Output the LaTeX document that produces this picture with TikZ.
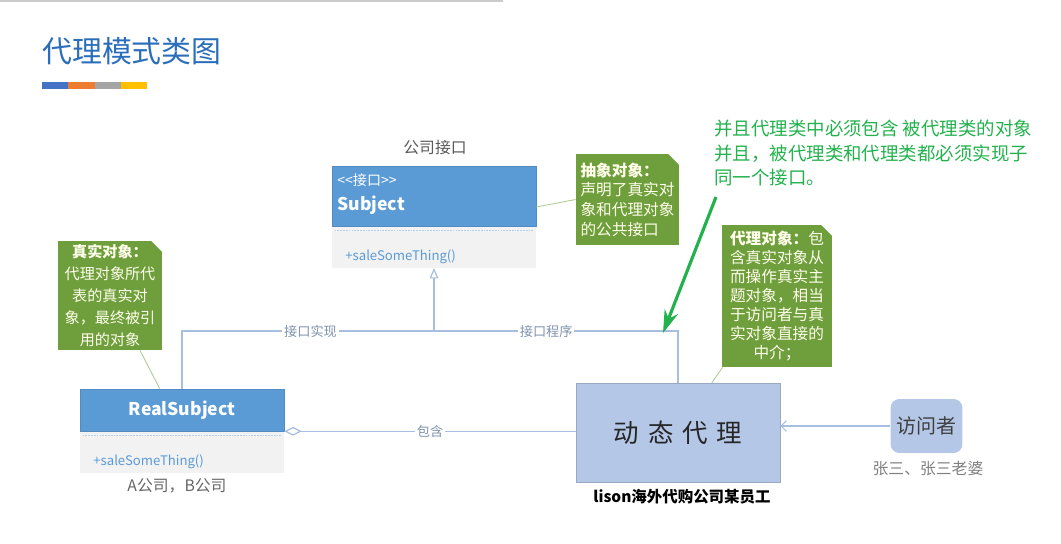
\documentclass[tikz,border=0pt]{standalone}
\usepackage{fontspec}
\setmainfont{Noto Sans CJK SC}
\usetikzlibrary{arrows.meta,calc,positioning}
\definecolor{TitleBlue}{HTML}{2A6EBB}
\definecolor{BarBlue}{HTML}{4472C4}
\definecolor{BarOrange}{HTML}{ED7D31}
\definecolor{BarGray}{HTML}{A5A5A5}
\definecolor{BarGold}{HTML}{FFC000}
\definecolor{UmlBlue}{HTML}{5B9BD5}
\definecolor{UmlGray}{HTML}{F2F2F2}
\definecolor{NoteGreen}{HTML}{6E9F3C}
\definecolor{LinkBlue}{HTML}{A8BEDF}
\definecolor{LabelGray}{HTML}{8193AD}
\definecolor{ProxyBlue}{HTML}{B4C7E7}
\definecolor{HintGreen}{HTML}{22B14C}

\tikzset{
  umlhead/.style={fill=UmlBlue,draw=UmlBlue!90!black,line width=0.3pt,minimum width=4.08cm,inner sep=0pt},
  umlbody/.style={fill=UmlGray,minimum width=4.08cm,minimum height=0.82cm,inner sep=0pt,anchor=north},
  sepline/.style={draw=UmlBlue!45,dash pattern=on 1pt off 0.6pt,line width=0.4pt},
  optext/.style={text=UmlBlue,font=\fontsize{7.5}{9}\selectfont,anchor=west,inner sep=0pt},
  note/.style={fill=NoteGreen,text=white!92!yellow,inner sep=0pt,font=\fontsize{8.9}{11.2}\selectfont,
    path picture={\fill[white] ([xshift=-6pt]path picture bounding box.north east) -- (path picture bounding box.north east) -- ([yshift=-6pt]path picture bounding box.north east) -- cycle;}},
  notelink/.style={draw=NoteGreen!55,line width=0.5pt},
  conn/.style={draw=LinkBlue,line width=0.7pt},
  lbl/.style={fill=white,text=LabelGray,inner sep=1pt,font=\fontsize{7.5}{9}\selectfont},
  caption/.style={text=black!60,font=\fontsize{9}{11}\selectfont}
}

\begin{document}
\begin{tikzpicture}[x=0.02cm,y=-0.02cm,>=Stealth]
  \useasboundingbox (0,0) rectangle (1061,544);
  \draw[black!20,line width=1.2pt] (0,0.8) -- (503,0.8);
  % title and colour bar
  \node[anchor=west,inner sep=0pt,text=TitleBlue,font=\fontsize{17}{20}\selectfont] (title) at (42,51) {代理模式类图};
  \foreach \c [count=\i from 0] in {BarBlue,BarOrange,BarGray,BarGold}
    \fill[\c] ({42+\i*26.25},82.5) rectangle ++(26.25,6.5);
  % interface
  \node[caption,text=black!65] (subjcap) at (435,148) {公司接口};
  \node[umlhead,minimum height=1.2cm] (subj) at (434,196) {};
  \node[umlbody] (subjops) at (subj.south) {};
  \draw[sepline] ($(subjops.north west)+(3,4)$) -- ($(subjops.north east)+(-3,4)$);
  \node[anchor=west,inner sep=0pt,text=white,font=\fontsize{8}{9}\selectfont] (stereo) at (337,180) {{<}{<}接口{>}{>}};
  \node[anchor=west,inner sep=0pt,text=white,font=\bfseries\fontsize{10}{12}\selectfont] (subjname) at (337,205) {Subject};
  \node[optext] (subjop) at (345,257) {+saleSomeThing()};
  % real subject
  \node[umlhead,minimum height=0.84cm,text=white,font=\bfseries\fontsize{10}{12}\selectfont] (real) at (182,410) {RealSubject};
  \node[umlbody] (realops) at (real.south) {};
  \draw[sepline] ($(realops.north west)+(3,4)$) -- ($(realops.north east)+(-3,4)$);
  \node[optext] (realop) at (93,462) {+saleSomeThing()};
  \node[caption] (realcap) at (177,486) {A公司，B公司};
  % proxy and visitor
  \node[fill=ProxyBlue,draw=ProxyBlue!85!black,line width=0.3pt,minimum width=4.08cm,minimum height=1.98cm,text=black!85,font=\fontsize{14.5}{16}\selectfont] (proxy) at (678,432.5) {动\hspace{5pt}态\hspace{5pt}代\hspace{5pt}理};
  \node[font=\bfseries\fontsize{8.8}{10}\selectfont] (proxycap) at (682,497) {lison海外代购公司某员工};
  \node[fill=ProxyBlue,rounded corners=5pt,minimum width=1.42cm,minimum height=1.08cm,text=black!75,font=\fontsize{11.4}{13}\selectfont] (visitor) at (926.5,426) {访问者};
  \node[caption,text=black!50] (visitorcap) at (928,469) {张三、张三老婆};
  % notes
  \node[note,minimum width=2.06cm,minimum height=1.82cm,align=left] (absnote) at (627.5,199.5) {\textbf{抽象对象：}\\声明了真实对\\象和代理对象\\的公共接口};
  \node[note,minimum width=2.08cm,minimum height=2.18cm,align=center,font=\fontsize{8.6}{12.5}\selectfont] (realnote) at (110,295.5) {\textbf{真实对象：}\\代理对象所代\\表的真实对\\象，最终被引\\用的对象};
  \node[note,minimum width=2.2cm,minimum height=2.84cm,align=center,font=\fontsize{8.9}{10.8}\selectfont] (proxynote) at (777,296) {\textbf{代理对象：}包\\含真实对象从\\而操作真实主\\题对象，相当\\于访问者与真\\实对象直接的\\中介；};
  \draw[notelink] ($(subj.east)+(0,11)$) -- (absnote.west);
  \draw[notelink] ($(realnote.south)+(30,0)$) -- ($(real.north west)+(80,0)$);
  \draw[notelink] ($(proxynote.south west)+(1,0)$) -- ($(proxy.north west)+(136,0)$);
  % relations
  \coordinate (junc) at (434,331);
  \draw[conn,-{Triangle[open,length=6pt,width=5pt]}] (junc) -- (subjops.south);
  \draw[conn] (real.north) |- node[lbl,pos=0.755] {接口实现} (junc);
  \draw[conn] (junc) -| node[lbl,pos=0.23] {接口程序} (proxy.north);
  \draw[conn,{Diamond[open,length=10pt,width=5pt]}-] (real.south east) -- node[lbl] {包含} (real.south east -| proxy.west);
  \draw[conn,-{Straight Barb[length=3pt,width=6pt]}] (visitor.west) -- (visitor.west -| proxy.east);
  % hint
  \node[anchor=north west,align=left,inner sep=0pt,text=HintGreen,font=\fontsize{10.5}{13.7}\selectfont] (hint) at (714,120) {并且代理类中必须包含 被代理类的对象\\并且，被代理类和代理类都必须实现子\\同一个接口。};
  \coordinate (hintfoot) at (716,197);
  \coordinate (hinttip) at (663,333);
  \draw[HintGreen,line width=1.8pt,-{Stealth[length=13pt,width=8pt]}] (hintfoot) -- (hinttip);
\end{tikzpicture}
\end{document}
